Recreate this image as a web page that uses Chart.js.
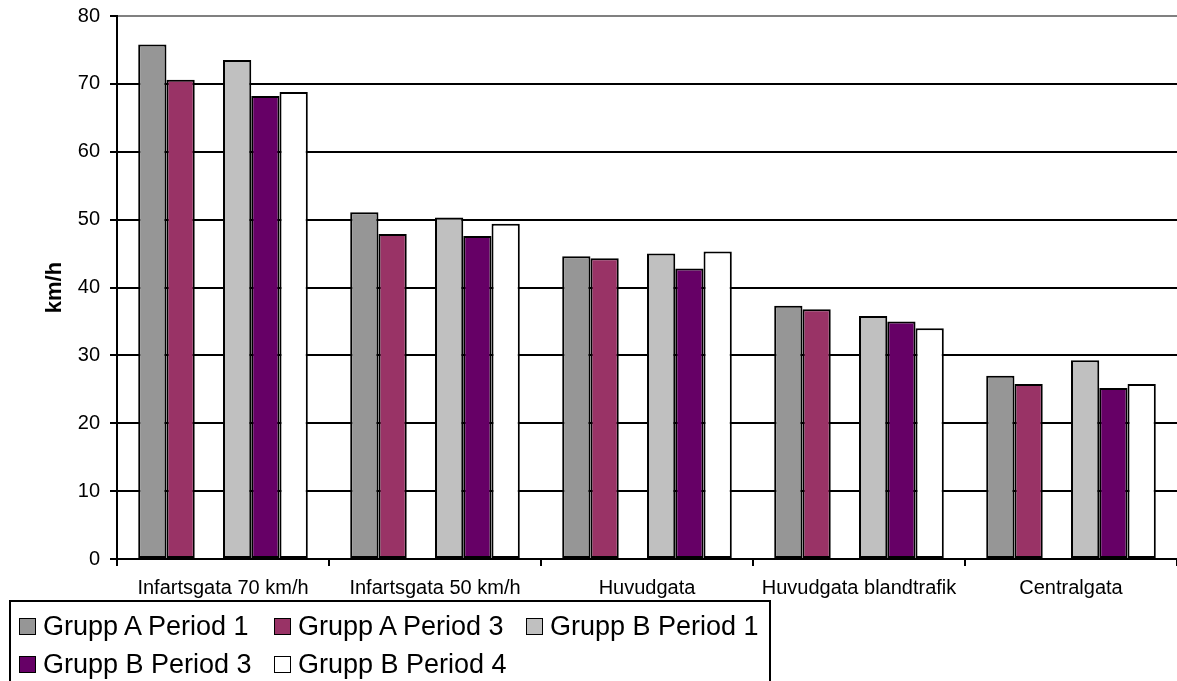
<!DOCTYPE html>
<html>
<head>
<meta charset="utf-8">
<script src="https://cdn.jsdelivr.net/npm/chart.js@4.4.1/dist/chart.umd.min.js"></script>
<style>
  html, body { margin: 0; padding: 0; background: #fff; }
  #wrap { position: relative; width: 1177px; height: 681px; overflow: hidden; }
  #legend {
    position: absolute; left: 9px; top: 600px; width: 762px; height: 100px;
    border: 2px solid #000; box-sizing: border-box;
    font-family: "Liberation Sans", Arial, sans-serif; font-size: 27px; color: #000;
  }
  .lg-item { position: absolute; height: 30px; display: flex; align-items: center; white-space: nowrap; line-height: 30px; }
  .lg-box { width: 15px; height: 15px; border: 1px solid #000; margin-right: 7px; }
</style>
</head>
<body>
<div id="wrap">
  <canvas id="c" width="1177" height="681"></canvas>
  <div id="legend"></div>
</div>
<script>
// Kategorier och serier (km/h)
const categories = ["Infartsgata 70 km/h", "Infartsgata 50 km/h", "Huvudgata", "Huvudgata blandtrafik", "Centralgata"];
const gruppA_P1 = [75.8, 51.1, 44.6, 37.3, 27.0];
const gruppA_P3 = [70.6, 47.9, 44.3, 36.8, 25.8];
const tomSerie  = [null, null, null, null, null]; // tom kolumn mellan grupp A och B
const gruppB_P1 = [73.5, 50.3, 45.0, 35.8, 29.3];
const gruppB_P3 = [68.2, 47.6, 42.8, 35.0, 25.2];
const gruppB_P4 = [68.8, 49.4, 45.3, 34.0, 25.8];
const yTicks = [0, 10, 20, 30, 40, 50, 60, 70, 80];

const FONT = "'Liberation Sans', Arial, sans-serif";

const datasets = [
  { label: "Grupp A Period 1", data: gruppA_P1, backgroundColor: "#969696" },
  { label: "Grupp A Period 3", data: gruppA_P3, backgroundColor: "#993366" },
  { label: "",                 data: tomSerie,  backgroundColor: "#ffffff" },
  { label: "Grupp B Period 1", data: gruppB_P1, backgroundColor: "#c0c0c0" },
  { label: "Grupp B Period 3", data: gruppB_P3, backgroundColor: "#660066" },
  { label: "Grupp B Period 4", data: gruppB_P4, backgroundColor: "#ffffff" },
].map(d => ({ ...d, borderColor: "#000", borderWidth: 2, borderSkipped: false, categoryPercentage: 0.8, barPercentage: 1.0 }));

const chart = new Chart(document.getElementById("c"), {
  type: "bar",
  data: { labels: categories, datasets },
  options: {
    responsive: false,
    animation: false,
    layout: { padding: { top: 16, right: 0, left: 0, bottom: 0 } },
    plugins: { legend: { display: false }, tooltip: { enabled: false } },
    scales: {
      x: {
        grid: { display: true, drawOnChartArea: false, drawTicks: true, tickLength: 7, color: "#000", lineWidth: 2, offset: true },
        border: { display: true, color: "#000", width: 2 },
        ticks: { color: "#000", font: { family: FONT, size: 20 }, padding: 10, maxRotation: 0, autoSkip: false },
        afterFit: s => { s.height = 122; s.paddingLeft = 0; s.paddingRight = 0; }
      },
      y: {
        min: 0, max: 80,
        afterBuildTicks: s => { s.ticks = yTicks.map(v => ({ value: v })); },
        grid: {
          color: ctx => (ctx.tick && ctx.tick.value === 80 ? "#808080" : "#000"),
          tickColor: "#000", tickLength: 7, lineWidth: 2
        },
        border: { display: true, color: "#000", width: 2 },
        ticks: { color: "#000", font: { family: FONT, size: 20 }, padding: 10 },
        title: { display: true, text: "km/h", color: "#000", font: { family: FONT, size: 22, weight: "bold" }, padding: { top: 42, bottom: 0 } },
        afterFit: s => { s.width = 117; s.paddingTop = 0; s.paddingBottom = 0; }
      }
    }
  }
});

// Egen förklaring (legend) i en ram, två rader
const legendPos = [[8, 9], [263, 9], [515, 9], [8, 47], [263, 47]];
const legendEl = document.getElementById("legend");
chart.data.datasets.filter(d => d.label).forEach((d, i) => {
  const item = document.createElement("div");
  item.className = "lg-item";
  item.style.left = legendPos[i][0] + "px";
  item.style.top = legendPos[i][1] + "px";
  item.innerHTML = `<span class="lg-box" style="background:${d.backgroundColor}"></span><span>${d.label}</span>`;
  legendEl.appendChild(item);
});
</script>
</body>
</html>
